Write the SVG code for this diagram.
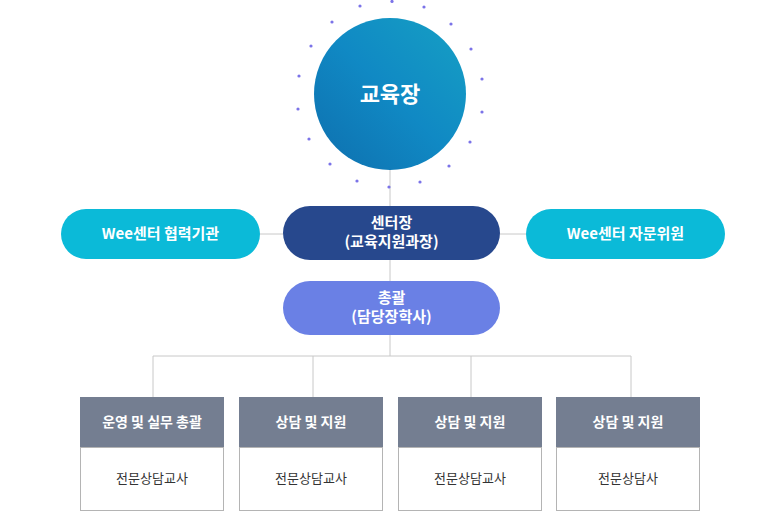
<svg xmlns="http://www.w3.org/2000/svg" width="781" height="524" viewBox="0 0 781 524">
<style>
text{font-family:"Noto Sans CJK KR","Noto Sans",sans-serif;text-anchor:middle}
.w{fill:#fff;font-weight:bold;font-size:15px}
.hd{fill:#fff;font-weight:bold;font-size:14px}
.bd{fill:#333;font-size:13px}
.ln{stroke:#c8c8c8;stroke-width:1;fill:none}
.dot{fill:#7b73e8}
.head{fill:#747e91}
.body{fill:#fff;stroke:#b4b4b4;stroke-width:1}
</style>
<defs>
<linearGradient id="g" x1="0" y1="1" x2="1" y2="0">
<stop offset="0" stop-color="#0e6fae"/><stop offset="0.5" stop-color="#1089c4"/><stop offset="1" stop-color="#16a0c4"/>
</linearGradient>
</defs>
<g id="connectors">
<path class="ln" d="M390 170V281M390 335V356M153 356H631M153 356V397M313 356V397M471 356V397M631 356V397M260 234H283M500 234H526"/>
</g>
<g id="dots">
<circle class="dot" cx="360" cy="6" r="1.6"/><circle class="dot" cx="392" cy="1.5" r="1.6"/><circle class="dot" cx="424" cy="7" r="1.6"/><circle class="dot" cx="451" cy="24" r="1.6"/><circle class="dot" cx="471" cy="49" r="1.6"/><circle class="dot" cx="482" cy="79" r="1.6"/><circle class="dot" cx="482" cy="112" r="1.6"/><circle class="dot" cx="470" cy="142" r="1.6"/><circle class="dot" cx="449" cy="166" r="1.6"/><circle class="dot" cx="420" cy="182" r="1.6"/><circle class="dot" cx="389" cy="187" r="1.6"/><circle class="dot" cx="357" cy="181" r="1.6"/><circle class="dot" cx="330" cy="164" r="1.6"/><circle class="dot" cx="309" cy="139" r="1.6"/><circle class="dot" cx="298" cy="109" r="1.6"/><circle class="dot" cx="299" cy="76" r="1.6"/><circle class="dot" cx="311" cy="46" r="1.6"/><circle class="dot" cx="332" cy="22" r="1.6"/>
</g>
<g id="n-edu">
<circle cx="390" cy="94" r="76" fill="url(#g)"/>
<text x="390" y="102" fill="#fff" font-weight="bold" font-size="22">교육장</text>
</g>
<g id="n-left">
<rect x="61" y="209" width="199" height="50" rx="25" fill="#0bbad8"/>
<text class="w" x="160.5" y="239">Wee센터 협력기관</text>
</g>
<g id="n-center">
<rect x="283" y="206" width="217" height="54" rx="27" fill="#27488d"/>
<text class="w" x="391.5" y="228" font-size="14">센터장</text>
<text class="w" x="391.5" y="247" font-size="14">(교육지원과장)</text>
</g>
<g id="n-right">
<rect x="526" y="209" width="199" height="50" rx="25" fill="#0bbad8"/>
<text class="w" x="625.5" y="239">Wee센터 자문위원</text>
</g>
<g id="n-chief">
<rect x="283" y="281" width="217" height="54" rx="27" fill="#6a80e5"/>
<text class="w" x="391.5" y="303" font-size="14">총괄</text>
<text class="w" x="391.5" y="322" font-size="14">(담당장학사)</text>
</g>
<g id="b1"><rect class="head" x="80" y="397" width="144" height="50"/><rect class="body" x="80.5" y="447.5" width="143" height="63"/><text class="hd" x="152" y="427">운영 및 실무 총괄</text><text class="bd" x="152" y="483">전문상담교사</text></g>
<g id="b2"><rect class="head" x="239" y="397" width="144" height="50"/><rect class="body" x="239.5" y="447.5" width="143" height="63"/><text class="hd" x="311" y="427">상담 및 지원</text><text class="bd" x="311" y="483">전문상담교사</text></g>
<g id="b3"><rect class="head" x="398" y="397" width="144" height="50"/><rect class="body" x="398.5" y="447.5" width="143" height="63"/><text class="hd" x="470" y="427">상담 및 지원</text><text class="bd" x="470" y="483">전문상담교사</text></g>
<g id="b4"><rect class="head" x="556" y="397" width="144" height="50"/><rect class="body" x="556.5" y="447.5" width="143" height="63"/><text class="hd" x="628" y="427">상담 및 지원</text><text class="bd" x="628" y="483">전문상담사</text></g>
</svg>
